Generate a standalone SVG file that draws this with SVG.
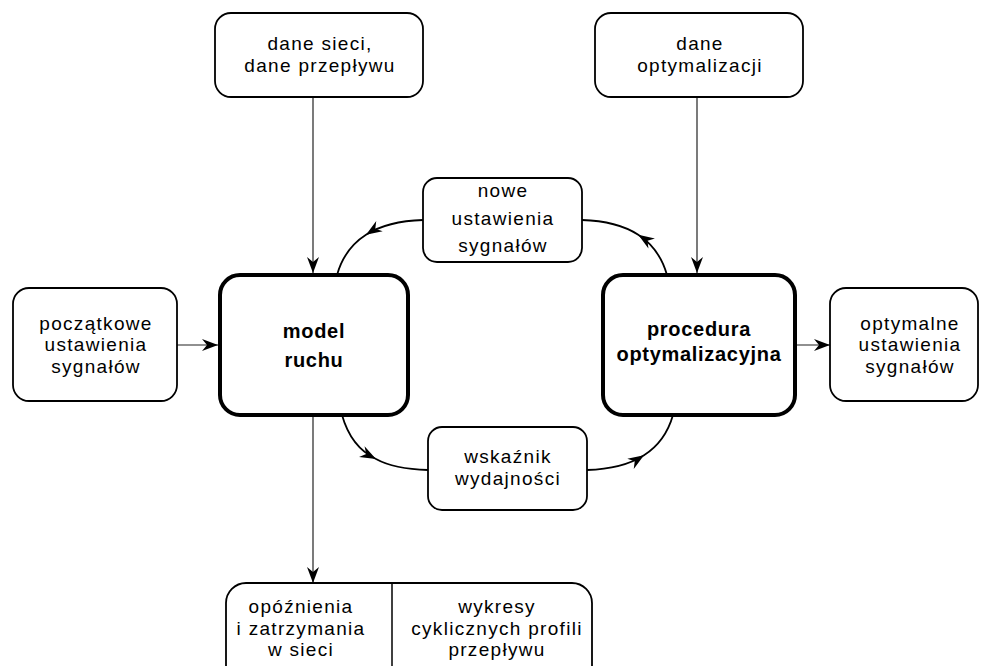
<svg xmlns="http://www.w3.org/2000/svg" width="981" height="666" viewBox="0 0 981 666">
<defs>
<marker id="ah" viewBox="-17 -7 18 14" refX="0" refY="0" markerWidth="18" markerHeight="14" markerUnits="userSpaceOnUse" orient="auto">
<path d="M0,0 L-16,-6 L-11,0 L-16,6 Z" fill="#000"/>
</marker>
<style>
.box{fill:#fff;stroke:#000;stroke-width:1.8}
.main{fill:#fff;stroke:#000;stroke-width:4}
.t{font-family:"Liberation Sans",Arial,sans-serif;font-size:19px;letter-spacing:1.3px;text-anchor:middle;fill:#000}
.b{font-family:"Liberation Sans",Arial,sans-serif;font-size:20px;letter-spacing:0.7px;font-weight:bold;text-anchor:middle;fill:#000}
.ln{fill:none;stroke:#222;stroke-width:1.2}
.cv{fill:none;stroke:#000;stroke-width:1.8}
</style>
</defs>
<g id="connectors">
<path class="ln" d="M313,97 L313,273" marker-end="url(#ah)"/>
<path class="ln" d="M697,97 L697,273" marker-end="url(#ah)"/>
<path class="ln" d="M177,345 L218,345" marker-end="url(#ah)"/>
<path class="ln" d="M795,345 L830,345" marker-end="url(#ah)"/>
<path class="ln" d="M313,415 L313,583" marker-end="url(#ah)"/>
<path class="cv" d="M423,220 Q387.5,221 366,234.75 Q344.5,248.5 337,275" marker-mid="url(#ah)"/>
<path class="cv" d="M667,275 Q659.5,248.5 638.25,234.75 Q617,221 582,220" marker-mid="url(#ah)"/>
<path class="cv" d="M342,415 Q351,447 376,459 Q394,469 428,470" marker-mid="url(#ah)"/>
<path class="cv" d="M587,470 Q622.5,469 644,455.25 Q665.5,441.5 673,415" marker-mid="url(#ah)"/>
</g>
<g id="dane-sieci">
<rect class="box" x="215" y="13" width="208" height="84" rx="16"/>
<text class="t" x="320" y="50">dane sieci,</text>
<text class="t" x="320" y="72">dane przepływu</text>
</g>
<g id="dane-optymalizacji">
<rect class="box" x="595" y="13" width="208" height="84" rx="16"/>
<text class="t" x="700" y="50">dane</text>
<text class="t" x="700" y="72">optymalizacji</text>
</g>
<g id="nowe-ustawienia">
<rect class="box" x="423" y="178" width="159" height="84" rx="14"/>
<text class="t" x="503" y="197">nowe</text>
<text class="t" x="503" y="224.5">ustawienia</text>
<text class="t" x="503" y="252">sygnałów</text>
</g>
<g id="poczatkowe">
<rect class="box" x="13" y="288" width="164" height="113" rx="16"/>
<text class="t" x="96" y="329.5">początkowe</text>
<text class="t" x="96" y="351">ustawienia</text>
<text class="t" x="96" y="372.5">sygnałów</text>
</g>
<g id="model-ruchu">
<rect class="main" x="220" y="275" width="188" height="140" rx="20"/>
<text class="b" x="314" y="338">model</text>
<text class="b" x="314" y="366.5">ruchu</text>
</g>
<g id="procedura">
<rect class="main" x="603" y="275" width="192" height="140" rx="20"/>
<text class="b" x="699" y="336">procedura</text>
<text class="b" x="699" y="361">optymalizacyjna</text>
</g>
<g id="optymalne">
<rect class="box" x="830" y="288" width="148" height="113" rx="16"/>
<text class="t" x="910" y="329.5">optymalne</text>
<text class="t" x="910" y="351">ustawienia</text>
<text class="t" x="910" y="372.5">sygnałów</text>
</g>
<g id="wskaznik">
<rect class="box" x="428" y="427" width="159" height="83" rx="14"/>
<text class="t" x="508" y="463">wskaźnik</text>
<text class="t" x="508" y="485">wydajności</text>
</g>
<g id="wyniki">
<rect class="box" x="226" y="583" width="366" height="110" rx="20"/>
<line x1="392" y1="583" x2="392" y2="666" stroke="#000" stroke-width="1.5"/>
<text class="t" x="301" y="613">opóźnienia</text>
<text class="t" x="301" y="635">i zatrzymania</text>
<text class="t" x="301" y="656">w sieci</text>
<text class="t" x="497" y="613">wykresy</text>
<text class="t" x="497" y="635">cyklicznych profili</text>
<text class="t" x="497" y="656">przepływu</text>
</g>
</svg>
